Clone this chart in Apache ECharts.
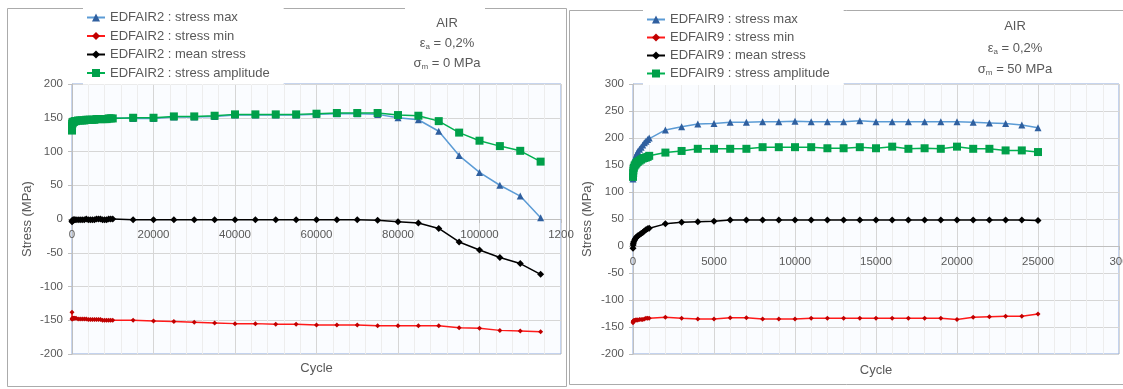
<!DOCTYPE html>
<html>
<head>
<meta charset="utf-8">
<script src="https://cdn.jsdelivr.net/npm/echarts@6/dist/echarts.min.js"></script>
<style>
html,body{margin:0;padding:0;background:#fff;}
#c{width:1123px;height:389px;}
</style>
</head>
<body>
<div id="c"></div>
<script>
// ---------- Data: EDFAIR2 (left) ----------
const L_cycles = [1,10,50,100,200,300,500,700,1000,1500,2000,2500,3000,3500,4000,4500,5000,5500,6000,6500,7000,7500,8000,8500,9000,9500,10000,
  15000,20000,25000,30000,35000,40000,45000,50000,55000,60000,65000,70000,75000,80000,85000,90000,95000,100000,105000,110000,115000];
const L_max = [136,140,142,143,144,145,145,146,146,147,147,147,147,148,148,148,148,148,149,149,149,149,149,149,150,150,150,
  149,149,151,151,152,154,154,154,154,155,156,156,155,150,147,130,94,69,50,34,2];
const L_min = [-138,-148,-148,-147,-147,-147,-147,-147,-147,-148,-148,-148,-148,-148,-149,-149,-149,-149,-149,-149,-149,-150,-150,-150,-150,-150,-150,
  -150,-151,-152,-153,-154,-155,-155,-156,-156,-157,-157,-157,-158,-158,-158,-158,-161,-162,-165,-166,-167];
const L_mean = [-3,-4,-3,-2,-2,-1,-1,-1,-1,-1,-1,-1,-1,0,-1,-1,-1,-1,0,0,0,-1,-1,-1,0,0,0,
  -1,-1,-1,-1,-1,-1,-1,-1,-1,-1,-1,-1,-2,-4,-6,-14,-34,-46,-57,-66,-82];
const L_amp = [131,138,141,142,143,144,144,145,145,146,146,146,146,147,147,147,147,147,148,148,148,148,148,148,149,149,149,
  150,150,152,152,153,155,155,155,155,156,157,157,157,154,153,145,128,116,108,101,85];

// ---------- Data: EDFAIR9 (right) ----------
const R_cycles = [1,10,20,50,100,150,200,250,300,400,500,600,700,800,900,1000,
  2000,3000,4000,5000,6000,7000,8000,9000,10000,11000,12000,13000,14000,15000,16000,17000,18000,19000,20000,21000,22000,23000,24000,25000];
const R_max = [124,137,145,153,160,165,169,172,175,179,183,187,191,194,197,200,
  215,221,226,227,229,229,230,230,231,230,230,230,232,230,230,230,230,230,230,229,228,227,224,219];
const R_min = [-142,-140,-139,-138,-138,-137,-137,-137,-137,-136,-136,-136,-135,-134,-134,-134,
  -132,-134,-135,-135,-133,-133,-135,-135,-135,-134,-134,-134,-134,-134,-134,-134,-134,-134,-136,-132,-131,-130,-130,-126];
const R_mean = [-4,2,5,8,11,14,16,17,19,21,23,25,28,30,32,33,
  41,44,45,46,48,48,48,48,48,48,48,48,48,48,48,48,48,48,48,48,48,48,48,47];
const R_amp = [128,135,140,145,149,151,153,155,156,158,160,162,163,164,165,167,
  173,176,180,180,180,180,183,183,183,183,181,181,183,181,184,180,181,180,184,180,180,177,177,174];

// ---------- Labels ----------
const L_names = ['EDFAIR2 : stress max','EDFAIR2 : stress min','EDFAIR2 : mean stress','EDFAIR2 : stress amplitude'];
const R_names = ['EDFAIR9 : stress max','EDFAIR9 : stress min','EDFAIR9 : mean stress','EDFAIR9 : stress amplitude'];
const L_xTicks = {0:'0',20000:'20000',40000:'40000',60000:'60000',80000:'80000',100000:'100000',120000:'1200'};
const R_xTicks = {0:'0',5000:'5000',10000:'10000',15000:'15000',20000:'20000',25000:'25000',30000:'300'};

const FONT = '"Liberation Sans", Arial, sans-serif';
const GRAY = '#595959';

function pairs(xs, ys){ return xs.map((x,i)=>[x, ys[i]]); }

const styles = [
  {line:'#5B9BD5', mark:'#2F5F9F', symbol:'triangle', size:7},
  {line:'#FF1A1A', mark:'#C00000', symbol:'diamond', size:5},
  {line:'#000000', mark:'#000000', symbol:'diamond', size:7},
  {line:'#00B050', mark:'#00A04A', symbol:'rect', size:8}
];

function makeSeries(names, xs, arrs, idx){
  return names.map((n,i)=>({
    name:n, type:'line', xAxisIndex:idx, yAxisIndex:idx,
    data: pairs(xs, arrs[i]),
    symbol: styles[i].symbol, symbolSize: styles[i].size, showSymbol:true,
    lineStyle:{color:styles[i].line, width:1.5},
    itemStyle:{color:styles[i].mark},
    animation:false, z: 3 + i
  }));
}

// x axis crosses the y axis at 0: the grid heights put 0 at 135 px (left) / 108 px (right) above the bottom
function xAxisCfg(idx, max, interval, ticks, nameGap, zeroOffset){
  return {
    type:'value', gridIndex:idx, min:0, max:max, interval:interval,
    position:'bottom', offset:zeroOffset,
    name:'Cycle', nameLocation:'middle', nameGap:nameGap,
    nameTextStyle:{color:GRAY, fontSize:13, fontFamily:FONT},
    axisLine:{show:true, onZero:false, lineStyle:{color:'#BFBFBF', width:1}},
    axisTick:{show:true, length:4, lineStyle:{color:'#BFBFBF'}},
    axisLabel:{color:GRAY, fontSize:11.5, fontFamily:FONT, margin:10,
      formatter:(v)=> (ticks[v] !== undefined ? ticks[v] : '')},
    splitLine:{show:true, lineStyle:{color:'#D6D6D6', width:1}},
    minorTick:{show:false, splitNumber:5},
    minorSplitLine:{show:true, lineStyle:{color:'#EDEDED', width:1}}
  };
}
function yAxisCfg(idx, min, max, nameGap){
  return {
    type:'value', gridIndex:idx, min:min, max:max, interval:50,
    name:'Stress (MPa)', nameLocation:'middle', nameGap:nameGap,
    nameTextStyle:{color:GRAY, fontSize:13, fontFamily:FONT},
    axisLine:{show:true, onZero:false, lineStyle:{color:'#BFBFBF', width:1}},
    axisTick:{show:true, length:4, lineStyle:{color:'#BFBFBF'}},
    axisLabel:{color:GRAY, fontSize:11.5, fontFamily:FONT, margin:9},
    splitLine:{show:true, lineStyle:{color:'#D6D6D6', width:1}}
  };
}
function legendCfg(names, left, top, gap){
  return {
    data:names, orient:'vertical', left:left, top:top,
    itemWidth:18, itemHeight:10, itemGap:gap,
    padding:[3,14,5,3], backgroundColor:'#ffffff',
    textStyle:{color:GRAY, fontSize:13, fontFamily:FONT},
    selectedMode:false
  };
}
function annot(cx, y1, y2, y3, sigmaVal){
  const base = {fill:GRAY, fontSize:13, fontFamily:FONT, textAlign:'center', textVerticalAlign:'middle'};
  return [
    {type:'text', x:cx, y:y1, style:Object.assign({text:'AIR'}, base), z:20},
    {type:'text', x:cx, y:y2, style:Object.assign({text:'ε{s|a} = 0,2%', rich:{s:{fontSize:8, fontFamily:FONT, fill:GRAY, padding:[7,0,0,0]}}}, base), z:20},
    {type:'text', x:cx, y:y3, style:Object.assign({text:'σ{s|m} = ' + sigmaVal, rich:{s:{fontSize:8, fontFamily:FONT, fill:GRAY, padding:[7,0,0,0]}}}, base), z:20}
  ];
}

const chart = echarts.init(document.getElementById('c'), null, {renderer:'canvas'});
chart.setOption({
  animation:false,
  backgroundColor:'#ffffff',
  textStyle:{fontFamily:FONT},
  grid:[
    {left:72, top:84, width:489, height:270, show:true, borderColor:'#8FAADC', borderWidth:1, backgroundColor:'#FAFCFF', outerBoundsMode:'none', containLabel:false},
    {left:633, top:84, width:486, height:270, show:true, borderColor:'#8FAADC', borderWidth:1, backgroundColor:'#FAFCFF', outerBoundsMode:'none', containLabel:false}
  ],
  xAxis:[ xAxisCfg(0, 120000, 20000, L_xTicks, 143, -135), xAxisCfg(1, 30000, 5000, R_xTicks, 118, -108) ],
  yAxis:[ yAxisCfg(0, -200, 200, 38), yAxisCfg(1, -200, 300, 39) ],
  legend:[ legendCfg(L_names, 83, 8, 5.5), legendCfg(R_names, 643, 10, 5) ],
  graphic:[
    {type:'rect', shape:{x:7.5, y:8.5, width:559, height:378}, style:{fill:'none', stroke:'#ABABAB', lineWidth:1}, z:-1, silent:true},
    {type:'rect', shape:{x:569.5, y:10.5, width:600, height:374}, style:{fill:'none', stroke:'#ABABAB', lineWidth:1}, z:-1, silent:true},
    {type:'rect', shape:{x:405, y:4, width:80, height:10}, style:{fill:'#ffffff'}, z:10, silent:true},
    ...annot(447, 23, 43, 63, '0 MPa'),
    ...annot(1015, 26, 48, 69, '50 MPa')
  ],
  series:[
    ...makeSeries(L_names, L_cycles, [L_max, L_min, L_mean, L_amp], 0),
    ...makeSeries(R_names, R_cycles, [R_max, R_min, R_mean, R_amp], 1)
  ]
});
</script>
</body>
</html>
